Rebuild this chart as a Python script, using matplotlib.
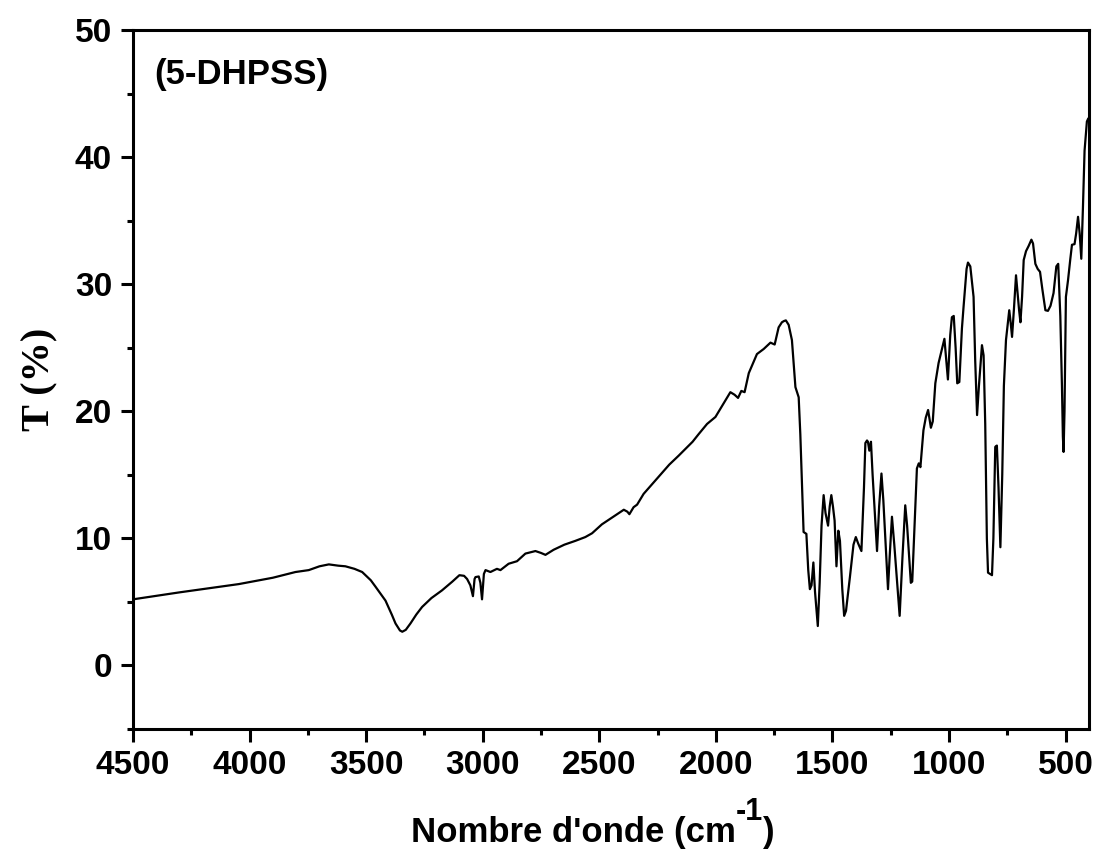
import matplotlib
matplotlib.use("Agg")
import matplotlib.pyplot as plt
from matplotlib.ticker import MultipleLocator

# Wavenumber (cm^-1) and transmittance (%)
wavenumber = [
    4500, 4300, 4046, 3900, 3803, 3746, 3700, 3660, 3620, 3589, 3550, 3517,
    3480, 3460, 3417, 3390, 3374, 3355, 3345, 3330, 3310, 3285, 3260, 3220,
    3175, 3130, 3100, 3080, 3067, 3053, 3042, 3035, 3031, 3017, 3010, 3003,
    2995, 2988, 2967, 2939, 2924, 2889, 2853, 2817, 2774, 2750, 2731, 2696,
    2650, 2603, 2560, 2531, 2489, 2440, 2395, 2380, 2371, 2353, 2338, 2310,
    2262, 2200, 2160, 2100, 2074, 2038, 2002, 1974, 1938, 1920, 1905, 1891,
    1877, 1859, 1824, 1795, 1766, 1748, 1731, 1717, 1708, 1700, 1688, 1674,
    1659, 1645, 1638, 1624, 1612, 1604, 1597, 1590, 1582, 1575, 1563, 1555,
    1547, 1538, 1530, 1519, 1512, 1505, 1498, 1491, 1483, 1475, 1468, 1458,
    1450, 1442, 1425, 1410, 1400, 1390, 1376, 1365, 1359, 1352, 1348, 1342,
    1335, 1328, 1309, 1300, 1290, 1282, 1262, 1255, 1245, 1235, 1212, 1200,
    1188, 1180, 1164, 1158, 1138, 1130, 1123, 1110, 1100, 1090, 1078, 1070,
    1059, 1045, 1032, 1020, 1005, 995, 988, 980, 972, 965, 956, 945,
    938, 925, 919, 909, 895, 888, 880, 872, 859, 852, 845, 838,
    833, 816, 810, 802, 795, 788, 780, 772, 765, 756, 742, 736,
    730, 722, 713, 700, 694, 687, 680, 670, 659, 647, 640, 630,
    620, 610, 600, 587, 576, 565, 552, 540, 532, 523, 516, 512,
    509, 505, 499, 490, 480, 473, 462, 455, 447, 440, 433, 426,
    419, 409, 404,
]
transmittance = [
    5.2, 5.75, 6.4, 6.9, 7.35, 7.5, 7.8, 7.95, 7.85, 7.8, 7.6, 7.35,
    6.7, 6.2, 5.1, 4.0, 3.3, 2.75, 2.65, 2.8, 3.3, 4.0, 4.6, 5.3,
    5.9, 6.6, 7.1, 7.05, 6.8, 6.3, 5.45, 6.8, 6.95, 7.0, 6.5, 5.2,
    7.2, 7.5, 7.35, 7.6, 7.5, 8.0, 8.2, 8.8, 9.0, 8.85, 8.7, 9.1,
    9.5, 9.8, 10.1, 10.4, 11.1, 11.7, 12.25, 12.1, 11.9, 12.45, 12.65, 13.5,
    14.5, 15.8, 16.5, 17.6, 18.2, 19.0, 19.55, 20.4, 21.5, 21.3, 21.05, 21.6,
    21.5, 23.0, 24.5, 24.9, 25.4, 25.25, 26.6, 27.0, 27.1, 27.15, 26.8, 25.6,
    21.9, 21.1, 18.2, 10.5, 10.35, 7.5, 6.0, 6.3, 8.1, 5.8, 3.1, 6.5,
    11.0, 13.4, 12.0, 11.0, 12.5, 13.4, 12.5, 11.4, 7.8, 10.6, 9.8, 6.0,
    3.9, 4.3, 7.0, 9.5, 10.1, 9.6, 9.0, 14.0, 17.5, 17.7, 17.6, 16.9,
    17.6, 15.0, 9.0, 12.5, 15.1, 13.0, 6.0, 8.5, 11.7, 9.5, 3.9, 8.5,
    12.6, 11.0, 6.5, 6.6, 15.5, 15.9, 15.6, 18.5, 19.5, 20.1, 18.7, 19.2,
    22.2, 23.8, 24.8, 25.7, 22.5, 26.0, 27.4, 27.5, 25.0, 22.2, 22.3, 26.5,
    28.2, 31.2, 31.7, 31.4, 29.0, 24.0, 19.7, 22.0, 25.2, 24.4, 19.0, 10.0,
    7.3, 7.1, 10.0, 17.2, 17.3, 14.0, 9.3, 15.0, 22.0, 25.6, 27.95, 27.0,
    25.85, 28.0, 30.7, 28.0, 27.0, 29.0, 31.9, 32.6, 33.0, 33.5, 33.2, 31.6,
    31.2, 30.97, 29.6, 27.95, 27.9, 28.3, 29.3, 31.4, 31.6, 27.5, 22.0, 18.0,
    16.8, 20.0, 29.0, 30.3, 32.0, 33.1, 33.15, 34.0, 35.3, 34.0, 32.0, 36.0,
    40.5, 42.8, 43.0,
]

sample_label = "(5-DHPSS)"
x_label_main = "Nombre d'onde (cm"
x_label_sup = "-1"
x_label_end = ")"
y_label = "T (%)"

W, H = 1097, 850
fig = plt.figure(figsize=(W / 100, H / 100), dpi=100)
ax = fig.add_axes([0.1212, 0.1424, 0.8715, 0.8223])

ax.plot(wavenumber, transmittance, color='black', linewidth=1.6)

ax.set_xlim(4500, 400)
ax.set_ylim(-5, 50)
ax.xaxis.set_major_locator(MultipleLocator(500))
ax.xaxis.set_minor_locator(MultipleLocator(250))
ax.yaxis.set_major_locator(MultipleLocator(10))
ax.yaxis.set_minor_locator(MultipleLocator(5))

for s in ax.spines.values():
    s.set_linewidth(2.2)
ax.tick_params(which='major', direction='out', length=9, width=2.2, pad=6,
               top=False, right=False)
ax.tick_params(which='minor', direction='out', length=4.5, width=2.2,
               top=False, right=False)

for lab in ax.get_xticklabels() + ax.get_yticklabels():
    lab.set_fontfamily('Liberation Sans')
    lab.set_fontweight('bold')
    lab.set_fontsize(24)

ax.set_ylabel(y_label, fontfamily='Liberation Serif', fontweight='bold',
              fontsize=29, labelpad=12)

ax.text(0.022, 0.936, sample_label, transform=ax.transAxes,
        fontfamily='Liberation Sans', fontweight='bold', fontsize=25,
        ha='left', va='center')

# x label built from pieces so the superscript is large, as in the reference
renderer = fig.canvas.get_renderer()
font = dict(fontfamily='Liberation Sans', fontweight='bold', color='black')
base_y = 8 / H
t1 = fig.text(0, base_y, x_label_main, fontsize=25, va='baseline', ha='left', **font)
t2 = fig.text(0, base_y + 22 / H, x_label_sup, fontsize=22, va='baseline', ha='left', **font)
t3 = fig.text(0, base_y, x_label_end, fontsize=25, va='baseline', ha='left', **font)
w1 = t1.get_window_extent(renderer).width
w2 = t2.get_window_extent(renderer).width
w3 = t3.get_window_extent(renderer).width
total = w1 + w2 + w3
x_start = 593 - total / 2
t1.set_x(x_start / W)
t2.set_x((x_start + w1) / W)
t3.set_x((x_start + w1 + w2) / W)

fig.savefig("out.png", dpi=100)
